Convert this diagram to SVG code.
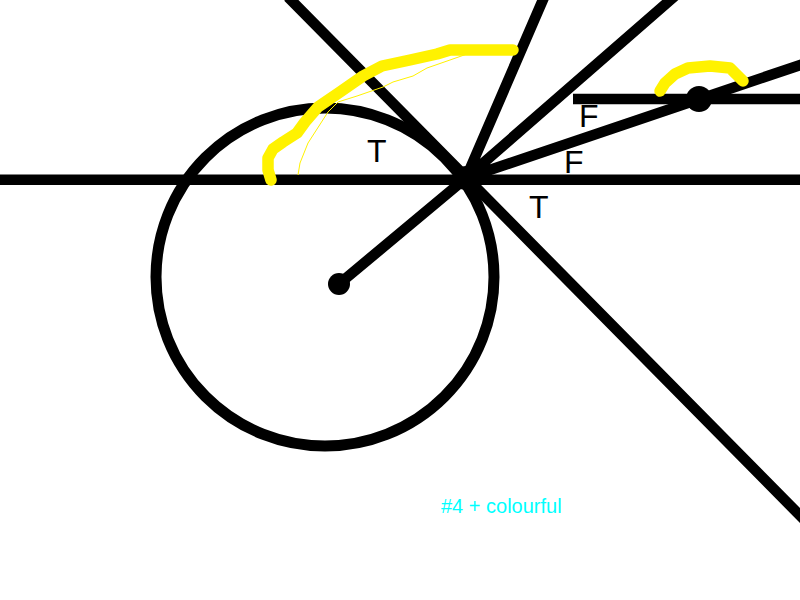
<svg xmlns="http://www.w3.org/2000/svg" width="800" height="600" viewBox="0 0 800 600">
<style>
.k{fill:none;stroke:#000;stroke-width:10.6}
.h{fill:none;stroke:#000;stroke-width:10.4}
.c{fill:none;stroke:#000;stroke-width:11}
.d{fill:#000}
.y{fill:none;stroke:#fff200;stroke-width:11.5;stroke-linecap:round;stroke-linejoin:round}
.t{fill:none;stroke:#fff200;stroke-width:1}
.l{font-family:"Liberation Sans",Arial,sans-serif;font-size:32px;fill:#000}
</style>
<rect width="800" height="600" fill="#fff"/>
<circle class="c" cx="325" cy="277" r="169"/>
<path class="h" d="M0 179.8H800M573 99H800"/>
<path class="k" d="M288 -3L810 525.6M466 178L545 -5M466 178L676 -5M466 178L812 61M339 284L466 178"/>
<circle class="d" cx="466" cy="178" r="12"/>
<circle class="d" cx="339" cy="284" r="11"/>
<circle class="d" cx="699" cy="99" r="13"/>
<path class="t" d="M298 175L300 163L308 143L328 112L338 102L357 96L383 87L393 82L413 76L427 68L450 60L467 54"/>
<path class="y" d="M271 180L268 170L268 158L273 149L283 142L297 133L305 122L318 107L340 92L363 76L382 66L410 60L437 54L450 50H513"/>
<path class="y" d="M660 91L665 83L675 74L688 68L710 66L730 68L737 75L743 81"/>
<text class="l" x="367" y="162">T</text>
<text class="l" x="579" y="127">F</text>
<text class="l" x="564" y="173">F</text>
<text class="l" x="529" y="218">T</text>
<text x="441" y="513" font-family="Liberation Sans, Arial, sans-serif" font-size="20" fill="#00ffff">#4 + colourful</text>
</svg>
